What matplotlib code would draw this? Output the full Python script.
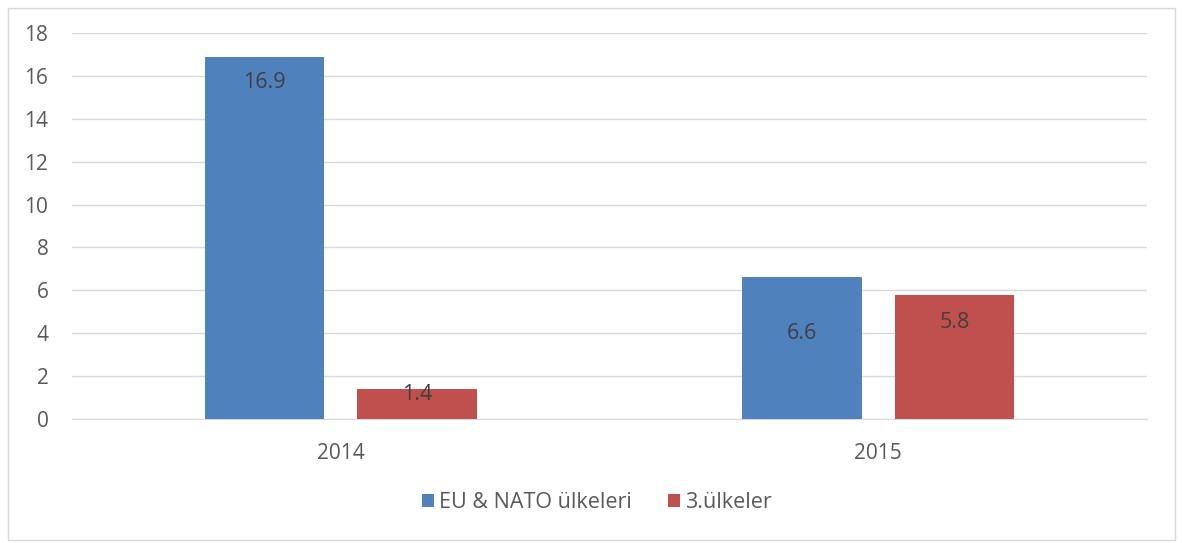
import matplotlib.pyplot as plt
from matplotlib.patches import Rectangle
import numpy as np

# Veriler
years = ["2014", "2015"]
eu_nato = [16.9, 6.6]
third = [1.4, 5.8]
series_names = ["EU & NATO ülkeleri", "3.ülkeler"]

plt.rcParams['font.family'] = ['Open Sans', 'DejaVu Sans']

fig = plt.figure(figsize=(11.82, 5.43), dpi=100)
ax = fig.add_axes([72 / 1182, 1 - 419 / 543, 1075 / 1182, 386 / 543])

x = np.arange(len(years))
w = 0.222
off = 0.142
b1 = ax.bar(x - off, eu_nato, w, color='#4f81bd', label=series_names[0], zorder=3)
b2 = ax.bar(x + off, third, w, color='#c0504d', label=series_names[1], zorder=3)

# Excel gibi etiketler (bar içinde)
label_drop = [[26, 56], [6, 28]]
for bars, vals, drops in [(b1, eu_nato, label_drop[0]), (b2, third, label_drop[1])]:
    for rect, v, d in zip(bars, vals, drops):
        ax.annotate(f"{v:.1f}", (rect.get_x() + rect.get_width() / 2, v),
                    xytext=(0, -d * 0.72), textcoords='offset points',
                    ha='center', va='center', fontsize=15.5, color='#404040', zorder=4)

ax.set_xlim(-0.5, 1.5)
ax.set_ylim(0, 18)
ax.set_yticks(range(0, 19, 2))
ax.set_xticks(x)
ax.set_xticklabels(years)
ax.yaxis.grid(True, color='#d9d9d9', linewidth=1, zorder=0)
ax.tick_params(axis='both', length=0, labelsize=15, labelcolor='#595959')
ax.tick_params(axis='x', pad=17)
ax.tick_params(axis='y', pad=17)
for s in ['top', 'right', 'left']:
    ax.spines[s].set_visible(False)
ax.spines['bottom'].set_color('#d9d9d9')

leg = fig.legend(loc='center', bbox_to_anchor=(597 / 1182, 1 - 503 / 543), ncol=2,
                 frameon=False, fontsize=15.5, handlelength=0.55, handleheight=0.55,
                 handletextpad=0.25, columnspacing=1.65)
for t in leg.get_texts():
    t.set_color('#595959')

fig.patches.append(Rectangle((8 / 1182, 3 / 543), 1167 / 1182, 532 / 543,
                             transform=fig.transFigure, fill=False,
                             edgecolor='#d9d9d9', linewidth=1))

fig.savefig("out.png", dpi=100)
